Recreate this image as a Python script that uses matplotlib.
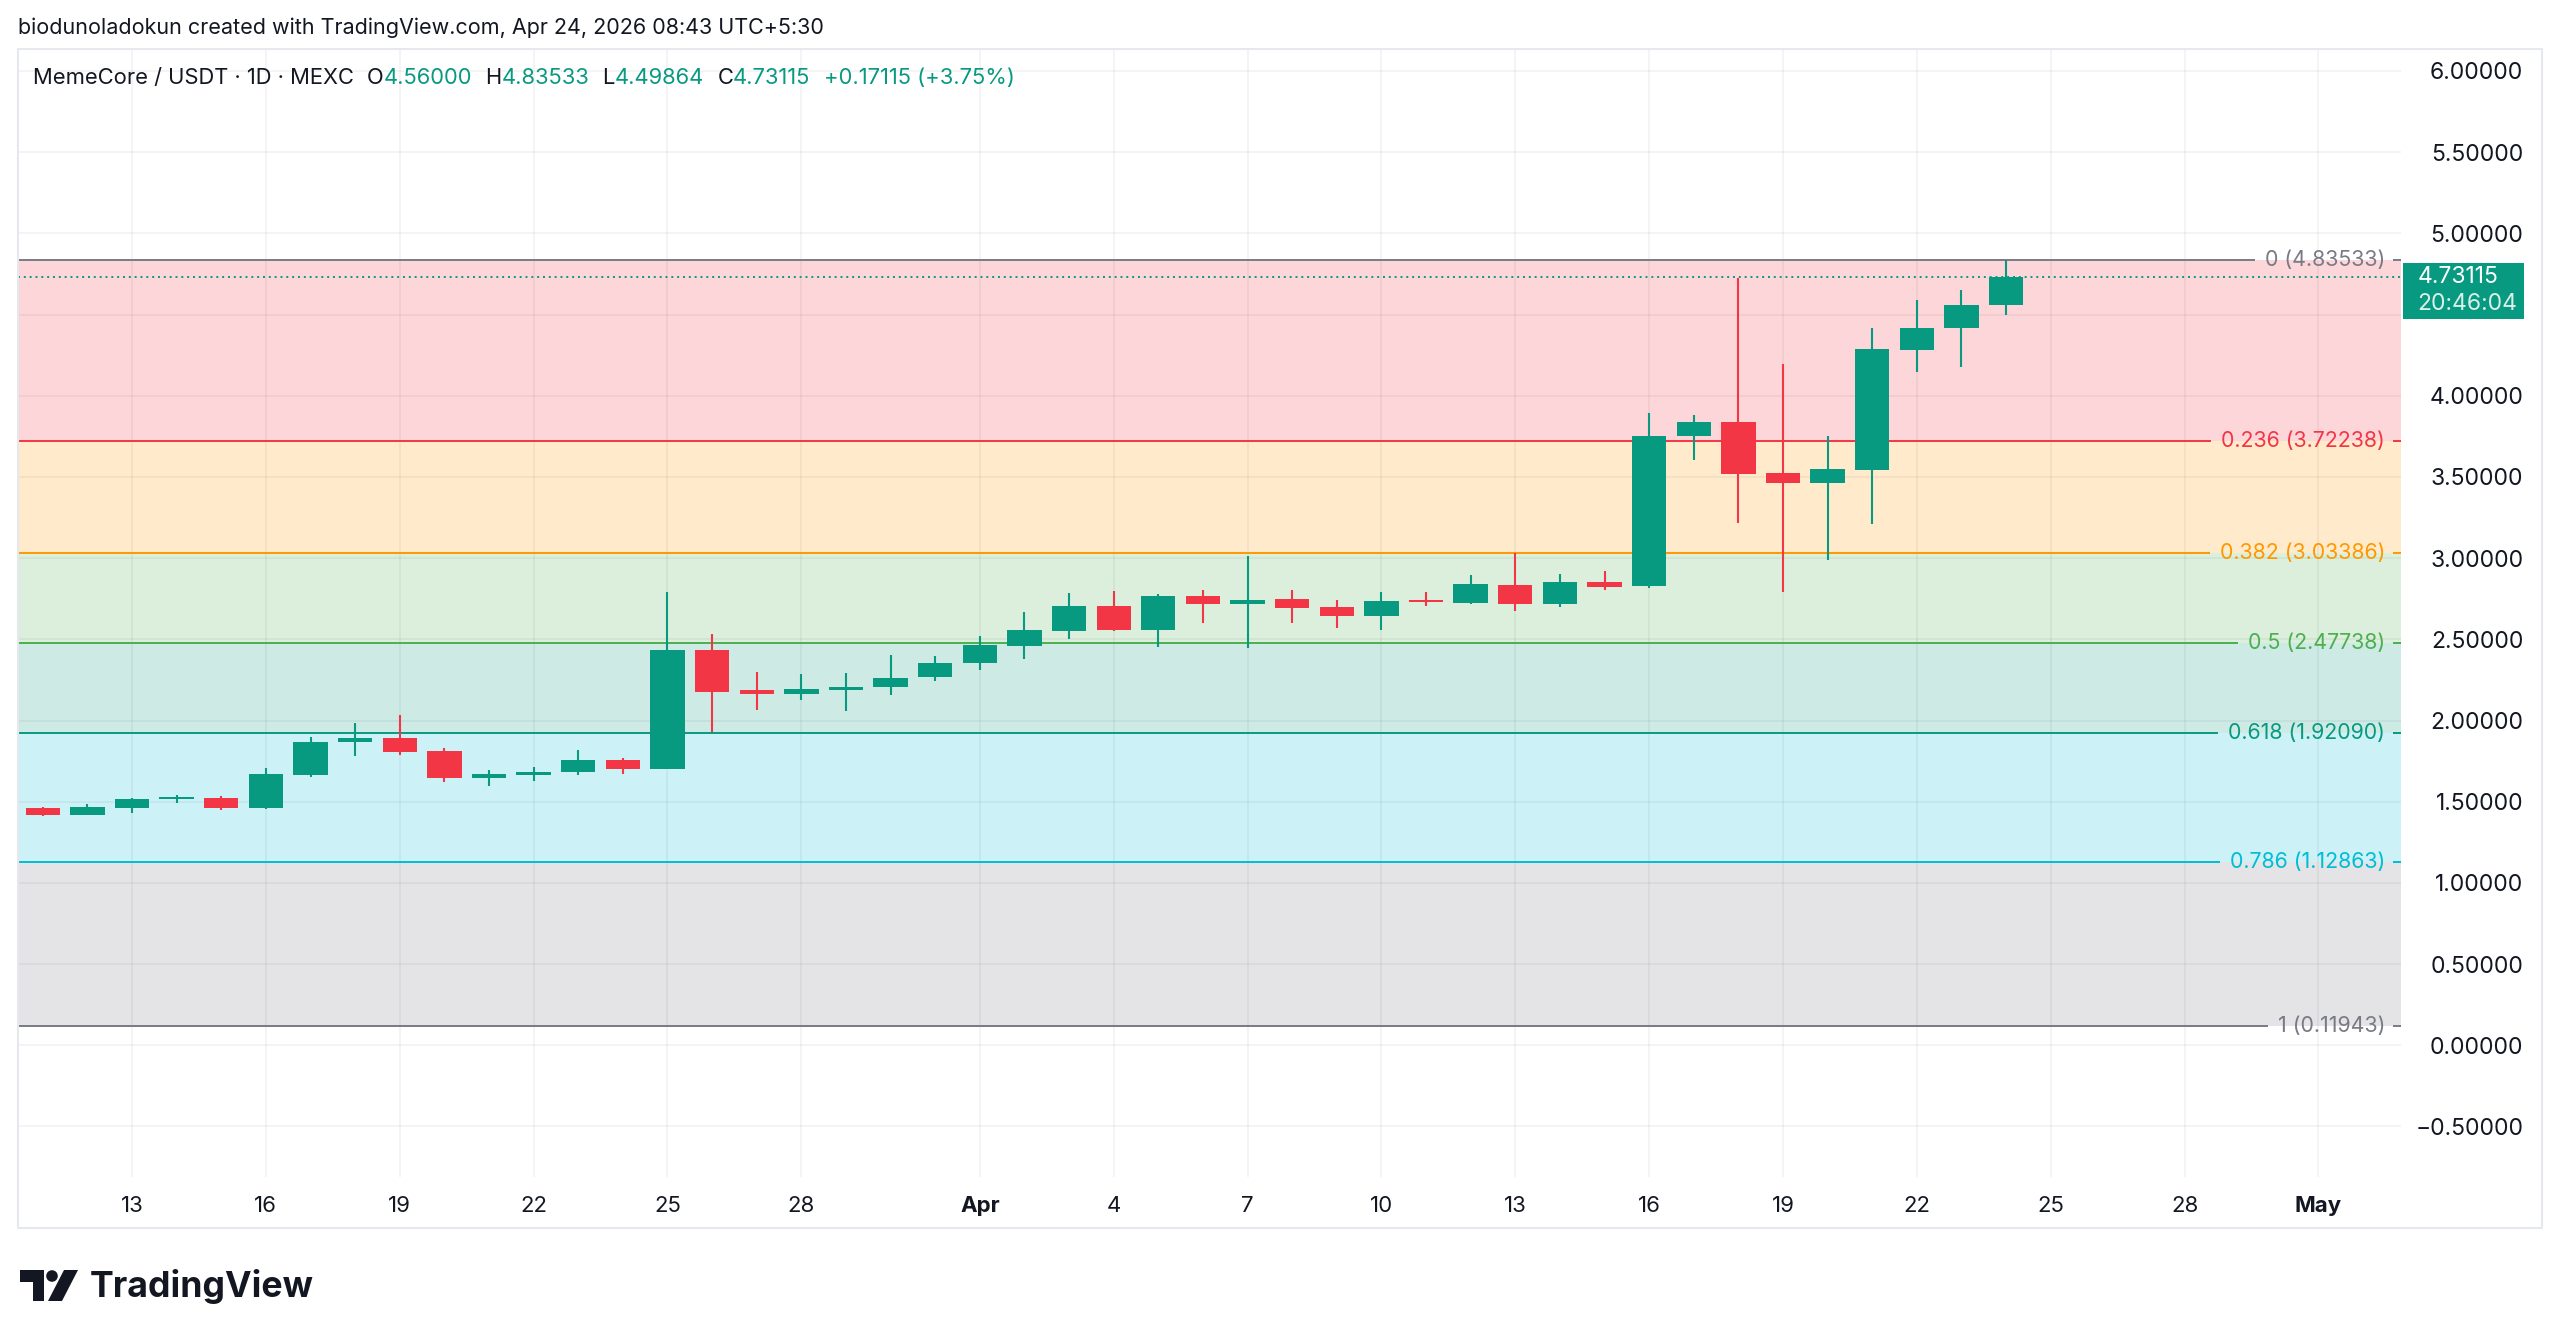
import numpy as np
import pandas as pd
import matplotlib
matplotlib.use("Agg")
import matplotlib.pyplot as plt
import matplotlib.dates as mdates
from matplotlib.transforms import blended_transform_factory
from matplotlib.offsetbox import TextArea, HPacker, AnchoredOffsetbox
from matplotlib.patches import Rectangle, Polygon, Circle

plt.rcParams['font.family'] = ['Inter', 'DejaVu Sans']

# daily candles MemeCore / USDT, Mar 11 .. Apr 24 2026
dates = pd.date_range("2026-03-11", "2026-04-24", freq="D")
opens = [1.459, 1.418, 1.463, 1.515, 1.523, 1.459, 1.662, 1.868, 1.890, 1.812,
         1.646, 1.662, 1.681, 1.755, 1.703, 2.432, 2.186, 2.165, 2.188, 2.204,
         2.268, 2.354, 2.461, 2.551, 2.707, 2.557, 2.767, 2.717, 2.746, 2.699,
         2.641, 2.740, 2.722, 2.834, 2.717, 2.853, 2.826, 3.754, 3.836, 3.522,
         3.461, 3.543, 4.281, 4.417, 4.56000]
highs = [1.469, 1.486, 1.525, 1.539, 1.533, 1.707, 1.896, 1.983, 2.034, 1.829,
         1.697, 1.714, 1.816, 1.771, 2.793, 2.533, 2.299, 2.284, 2.294, 2.403,
         2.397, 2.520, 2.670, 2.783, 2.795, 2.779, 2.802, 3.010, 2.802, 2.740,
         2.791, 2.791, 2.894, 3.030, 2.904, 2.920, 3.893, 3.881, 4.723, 4.193,
         3.750, 4.415, 4.587, 4.649, 4.83533]
lows = [1.412, 1.416, 1.432, 1.494, 1.451, 1.453, 1.652, 1.781, 1.789, 1.623,
        1.599, 1.629, 1.662, 1.669, 1.700, 1.931, 2.067, 2.124, 2.060, 2.159,
        2.245, 2.313, 2.381, 2.500, 2.551, 2.454, 2.598, 2.448, 2.602, 2.568,
        2.557, 2.705, 2.720, 2.676, 2.699, 2.802, 2.818, 3.604, 3.218, 2.793,
        2.988, 3.210, 4.144, 4.179, 4.49864]
closes = [1.418, 1.469, 1.517, 1.529, 1.459, 1.669, 1.868, 1.890, 1.806, 1.646,
          1.669, 1.685, 1.755, 1.703, 2.432, 2.175, 2.165, 2.192, 2.208, 2.260,
          2.356, 2.465, 2.555, 2.707, 2.557, 2.767, 2.717, 2.744, 2.695, 2.641,
          2.734, 2.728, 2.840, 2.715, 2.853, 2.824, 3.754, 3.836, 3.520, 3.461,
          3.547, 4.286, 4.415, 4.560, 4.73115]

# fibonacci retracement levels
fib_ratios = ["0", "0.236", "0.382", "0.5", "0.618", "0.786", "1"]
fib_prices = [4.83533, 3.72238, 3.03386, 2.47738, 1.92090, 1.12863, 0.11943]
fib_colors = ['#787b86', '#f23645', '#ff9800', '#4caf50', '#089981', '#00bcd4', '#787b86']

price_ticks = [-0.5, 0.0, 0.5, 1.0, 1.5, 2.0, 2.5, 3.0, 3.5, 4.0, 4.5, 5.0, 5.5, 6.0]
date_ticks = ["2026-03-13", "2026-03-16", "2026-03-19", "2026-03-22", "2026-03-25",
              "2026-03-28", "2026-04-01", "2026-04-04", "2026-04-07", "2026-04-10",
              "2026-04-13", "2026-04-16", "2026-04-19", "2026-04-22", "2026-04-25",
              "2026-04-28", "2026-05-01"]
date_labels = ["13", "16", "19", "22", "25", "28", "Apr", "4", "7", "10",
               "13", "16", "19", "22", "25", "28", "May"]

last_price = 4.73115
countdown = "20:46:04"
header = "biodunoladokun created with TradingView.com, Apr 24, 2026 08:43 UTC+5:30"

UP = '#089981'
DOWN = '#f23645'
TXT = '#131722'
W, H = 2560, 1340

fig = plt.figure(figsize=(W / 100, H / 100), dpi=100)
fig.patch.set_facecolor('white')

# plot area in pixel terms: x 18..2401, y 49..1177
ax = fig.add_axes([18 / W, 1 - 1177 / H, (2401 - 18) / W, (1177 - 49) / H])
x = mdates.date2num(dates)
d13 = mdates.date2num(pd.Timestamp("2026-03-13"))
ax.set_xlim(d13 - 2.556, d13 + 50.85)
ax.set_ylim(-0.811, 6.135)

# fib bands
for i in range(len(fib_prices) - 1):
    ax.axhspan(fib_prices[i + 1], fib_prices[i], color=fib_colors[i + 1],
               alpha=0.2, lw=0, zorder=0.2)

# grid
ax.set_axisbelow('line')
ax.grid(True, color='#2a2e39', alpha=0.06, lw=1.2)

# candles
o = np.array(opens)
c = np.array(closes)
colors = [UP if cc >= oo else DOWN for oo, cc in zip(o, c)]
ax.vlines(x, lows, highs, colors=colors, lw=1.5, zorder=3)
body_low = np.minimum(o, c)
body_h = np.maximum(np.abs(c - o), 0.014)
ax.bar(x, body_h, bottom=body_low, width=0.77, color=colors, lw=0, zorder=4)

# last price dotted line
ax.axhline(last_price, color=UP, ls=(0, (1, 2)), lw=1.4, zorder=2.5)

# fib labels, then lines with a gap around each label
blend = blended_transform_factory(ax.transAxes, ax.transData)
fib_texts = []
for r, p, col in zip(fib_ratios, fib_prices, fib_colors):
    t = ax.annotate(f"{r} ({p:.5f})", xy=(1, p), xycoords=('axes fraction', 'data'),
                    xytext=(-11.5, 0), textcoords='offset points', ha='right',
                    va='center', color=col, fontsize=15.4, zorder=5)
    fib_texts.append(t)

# axes ticks (4.5 sits under the price tag, so it is left blank)
ax.yaxis.tick_right()
ax.set_yticks(price_ticks)
ax.set_yticklabels(["" if v == 4.5 else f"{v:.5f}".replace("-", "\u2212") for v in price_ticks])
ax.tick_params(axis='y', length=0, pad=88, labelsize=16.5, labelcolor=TXT)
plt.setp(ax.get_yticklabels(), ha='right')

ax.set_xticks(mdates.date2num(pd.to_datetime(date_ticks)))
ax.set_xticklabels(date_labels)
ax.tick_params(axis='x', length=0, pad=14, labelsize=16, labelcolor=TXT)
for lab in ax.get_xticklabels():
    if lab.get_text() in ("Apr", "May"):
        lab.set_fontweight('bold')

for s in ax.spines.values():
    s.set_visible(False)

fig.canvas.draw()
rend = fig.canvas.get_renderer()
inv = ax.transData.inverted()
x_left, x_right = ax.get_xlim()
for t, p, col in zip(fib_texts, fib_prices, fib_colors):
    bb = t.get_window_extent(rend)
    g0 = inv.transform((bb.x0 - 10, 0))[0]
    g1 = inv.transform((bb.x1 + 8, 0))[0]
    ax.hlines(p, x_left, g0, color=col, lw=1.4, zorder=2)
    ax.hlines(p, g1, x_right, color=col, lw=1.4, zorder=2)

# price tag on the scale
ax.add_patch(Rectangle((1.001, 4.4705), 0.0508, 0.3485, transform=blend,
                       fc=UP, ec='none', clip_on=False, zorder=10))
ax.annotate(f"{last_price:.5f}", xy=(1, last_price), xycoords=('axes fraction', 'data'),
            xytext=(12, 0), textcoords='offset points', ha='left', va='center',
            color='white', fontsize=16.5, zorder=11, annotation_clip=False)
ax.annotate(countdown, xy=(1, last_price), xycoords=('axes fraction', 'data'),
            xytext=(12, -19.5), textcoords='offset points', ha='left', va='center',
            color='#d7f0ea', fontsize=16.5, zorder=11, annotation_clip=False)

# panel border
fig.add_artist(Rectangle((18 / W, 1 - 1228 / H), (2542 - 18) / W, (1228 - 49) / H,
                         transform=fig.transFigure, fc='none', ec='#e6e8ed', lw=1.5))

# header
fig.text(18 / W, 1 - 28 / H, header, fontsize=15.5, color=TXT, va='center')

# OHLC legend
def ta(s, col):
    return TextArea(s, textprops=dict(color=col, fontsize=15.8))

groups = [ta("MemeCore / USDT \u00b7 1D \u00b7 MEXC", TXT),
          HPacker(children=[ta("O", TXT), ta("4.56000", UP)], sep=0, pad=0, align='baseline'),
          HPacker(children=[ta("H", TXT), ta("4.83533", UP)], sep=0, pad=0, align='baseline'),
          HPacker(children=[ta("L", TXT), ta("4.49864", UP)], sep=0, pad=0, align='baseline'),
          HPacker(children=[ta("C", TXT), ta("4.73115", UP)], sep=0, pad=0, align='baseline'),
          ta("+0.17115 (+3.75%)", UP)]
legend = HPacker(children=groups, sep=9.5, pad=0, align='baseline')
box = AnchoredOffsetbox(loc='center left', child=legend, pad=0, borderpad=0, frameon=False,
                        bbox_to_anchor=(33 / W, 1 - 78 / H), bbox_transform=fig.transFigure)
fig.add_artist(box)

# TradingView logo
lax = fig.add_axes([20 / W, 1 - 1301 / H, 58 / W, 31 / H])
lax.set_xlim(0, 58)
lax.set_ylim(0, 31)
lax.axis('off')
lax.add_patch(Polygon([(0, 31), (24, 31), (24, 0), (12.5, 0), (12.5, 19), (0, 19)], fc='#131722'))
lax.add_patch(Circle((32, 25), 5.8, fc='#131722'))
lax.add_patch(Polygon([(28, 0), (42, 0), (58, 31), (44, 31)], fc='#131722'))
fig.text(90 / W, 1 - 1287 / H, "TradingView", fontsize=25.7, fontweight='bold',
         color='#131722', va='center')

fig.savefig("out.png", dpi=100, facecolor='white')
